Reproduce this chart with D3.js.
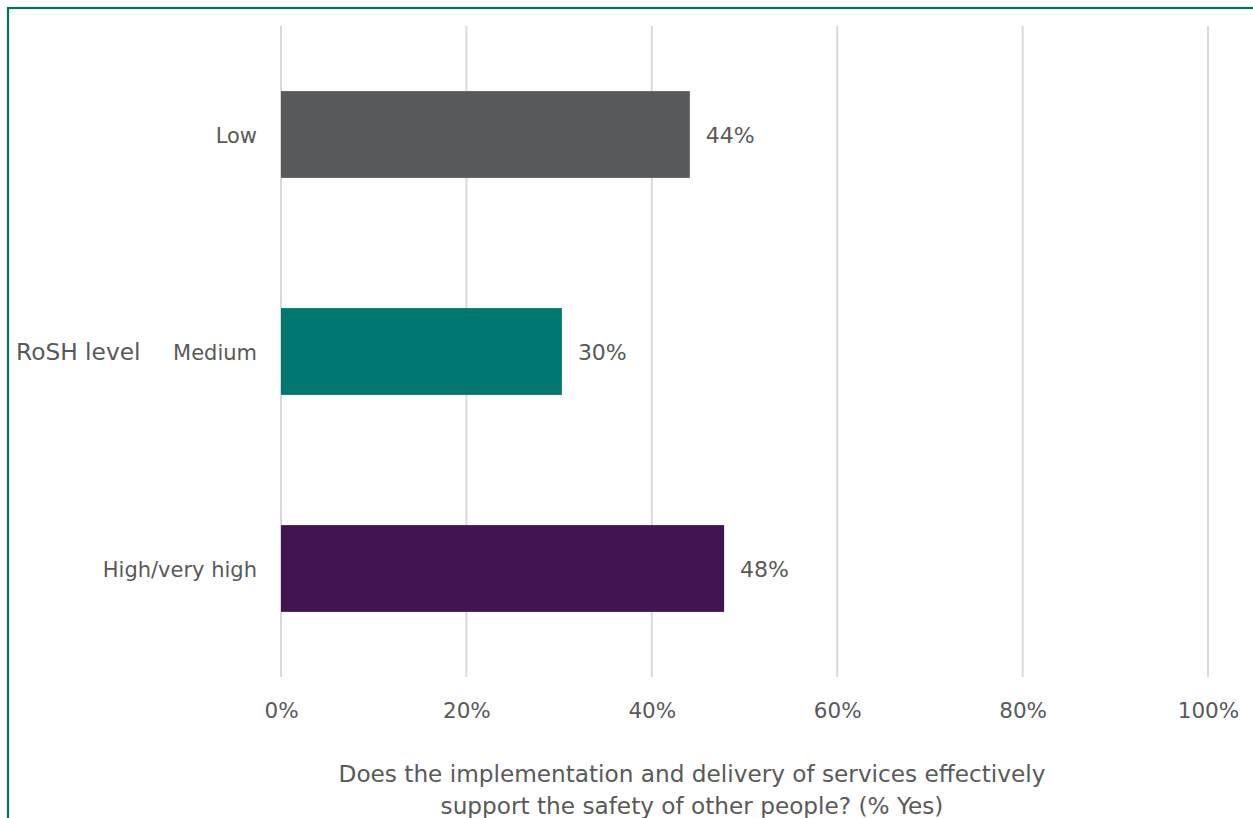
<!DOCTYPE html>
<html>
<head>
<meta charset="utf-8">
<script src="https://cdn.jsdelivr.net/npm/d3@7"></script>
<style>
  html, body { margin: 0; padding: 0; background: #fff; }
  svg { display: block; }
  text { font-family: "DejaVu Sans", sans-serif; fill: #595959; }
</style>
</head>
<body>
<svg id="chart" width="1253" height="818"></svg>
<script>
const categories = ["Low", "Medium", "High/very high"];
const values = [0.441, 0.303, 0.478];
const valueLabels = ["44%", "30%", "48%"];
const colors = ["#58595b", "#00776f", "#3f1451"];
const tickValues = [0, 0.2, 0.4, 0.6, 0.8, 1.0];
const tickLabels = ["0%", "20%", "40%", "60%", "80%", "100%"];
const axisTitle = "RoSH level";
const xTitleLines = ["Does the implementation and delivery of services effectively", "support the safety of other people? (% Yes)"];

const svg = d3.select("#chart");

// frame border (right and bottom lie outside the captured area)
svg.append("rect")
  .attr("x", 8).attr("y", 8)
  .attr("width", 1300).attr("height", 900)
  .attr("fill", "none")
  .attr("stroke", "#00735f")
  .attr("stroke-width", 2.2);

const plotTop = 26, plotBottom = 677;
const x = d3.scaleLinear().domain([0, 1]).range([281, 1208]);
const y = d3.scaleBand().domain(categories).range([plotTop, plotBottom]).paddingInner(0.6).paddingOuter(0.3);

// gridlines
svg.append("g")
  .selectAll("line")
  .data(tickValues)
  .join("line")
  .attr("x1", d => x(d)).attr("x2", d => x(d))
  .attr("y1", plotTop).attr("y2", plotBottom)
  .attr("stroke", "#d9d9d9")
  .attr("stroke-width", 2);

// tick labels via axis
const xAxis = d3.axisBottom(x)
  .tickValues(tickValues)
  .tickFormat((d, i) => tickLabels[i])
  .tickSize(0)
  .tickPadding(0);
const gx = svg.append("g")
  .attr("transform", `translate(0, ${plotBottom + 26})`)
  .call(xAxis);
gx.select(".domain").remove();
gx.selectAll("text")
  .attr("font-family", "DejaVu Sans, sans-serif")
  .attr("font-size", 21.5)
  .style("fill", "#595959");

// bars
svg.append("g")
  .selectAll("rect")
  .data(categories)
  .join("rect")
  .attr("x", x(0))
  .attr("y", d => y(d))
  .attr("width", (d, i) => x(values[i]) - x(0))
  .attr("height", y.bandwidth())
  .attr("fill", (d, i) => colors[i]);

// value labels
svg.append("g")
  .selectAll("text")
  .data(categories)
  .join("text")
  .attr("x", (d, i) => x(values[i]) + 16)
  .attr("y", d => y(d) + y.bandwidth() / 2)
  .attr("dy", "0.38em")
  .attr("font-size", 22)
  .text((d, i) => valueLabels[i]);

// category labels
const yAxis = d3.axisLeft(y).tickSize(0).tickPadding(24);
const gy = svg.append("g")
  .attr("transform", `translate(${x(0)}, 0)`)
  .call(yAxis);
gy.select(".domain").remove();
gy.selectAll("text")
  .attr("font-family", "DejaVu Sans, sans-serif")
  .attr("font-size", 21)
  .attr("dy", "0.4em")
  .style("fill", "#595959");

// y-axis title
svg.append("text")
  .attr("x", 16)
  .attr("y", y("Medium") + y.bandwidth() / 2)
  .attr("dy", "0.38em")
  .attr("font-size", 23.3)
  .text(axisTitle);

// x-axis title
svg.append("g")
  .selectAll("text")
  .data(xTitleLines)
  .join("text")
  .attr("x", 692)
  .attr("y", (d, i) => 782 + i * 32)
  .attr("text-anchor", "middle")
  .attr("font-size", 23.2)
  .text(d => d);
</script>
</body>
</html>
